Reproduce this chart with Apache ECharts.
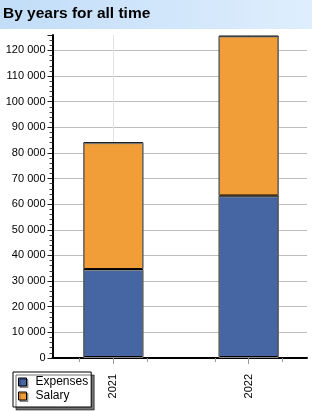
<!DOCTYPE html>
<html><head><meta charset="utf-8">
<script src="https://cdn.jsdelivr.net/npm/echarts@6/dist/echarts.min.js"></script>
<style>html,body{margin:0;padding:0;background:#fff}#c{width:312px;height:411px}</style>
</head><body><div id="c"></div>
<script>
var titleText = 'By years for all time';
var categories = ['2021', '2022'];
var seriesNames = ['Expenses', 'Salary'];
var expenses = [34300, 63000];
var salary = [49500, 62400];
var yMax = 126000;
var yInterval = 10000;
// slot layout: 7 evenly spaced x tick positions, years sit on slots 1 and 5
var slots = ['', categories[0], '', '', '', categories[1], ''];
var yearSlot = [1, 5];

function slotData(vals) {
  var d = slots.map(function () { return null; });
  yearSlot.forEach(function (s, i) { d[s] = vals[i]; });
  return d;
}
function fmt(v) {
  if (v % yInterval !== 0) return '';
  return String(v).replace(/\B(?=(\d{3})+(?!\d))/g, ' ');
}
function isYear(i) { return yearSlot.indexOf(i) >= 0; }
var FONT = '"Liberation Sans", Arial, sans-serif';
var chart = echarts.init(document.getElementById('c'), null, {renderer: 'canvas'});
chart.setOption({
  animation: false,
  textStyle: {fontFamily: FONT},
  graphic: [{
    type: 'rect', shape: {x: 0, y: 0, width: 312, height: 29}, z: -1,
    style: {fill: new echarts.graphic.LinearGradient(0, 0, 1, 0, [
      {offset: 0, color: '#c2ddf8'}, {offset: 1, color: '#deeefd'}])}
  }, {
    type: 'text', left: 3, top: 6,
    style: {text: titleText, font: 'bold 15.5px ' + FONT, fill: '#000'}
  }],
  grid: [
    {left: 52.5, right: 5, top: 35, bottom: 53, containLabel: false, outerBoundsMode: 'none'},
    {left: 79.5, right: 29.5, top: 35, bottom: 53, containLabel: false, outerBoundsMode: 'none'}
  ],
  xAxis: [
    {gridIndex: 0, type: 'value', min: 0, max: 1, position: 'bottom',
     axisLine: {show: true, onZero: false, lineStyle: {color: '#000', width: 2}},
     axisTick: {show: false}, axisLabel: {show: false}, splitLine: {show: false}},
    {gridIndex: 1, type: 'category', data: slots, boundaryGap: false, position: 'bottom',
     axisLine: {show: false, onZero: false},
     axisTick: {show: true, length: 4, lineStyle: {color: '#999'}},
     axisLabel: {show: false},
     splitLine: {show: true, interval: isYear, lineStyle: {color: '#e2e2e2', width: 1}}},
    {gridIndex: 1, type: 'category', data: slots, boundaryGap: false, position: 'bottom', offset: 0,
     axisLine: {show: false, onZero: false},
     axisTick: {show: true, length: 6, interval: isYear, lineStyle: {color: '#999'}},
     axisLabel: {show: true, rotate: 90, margin: 16, fontSize: 11, color: '#000', interval: isYear},
     splitLine: {show: false}}
  ],
  yAxis: [
    {gridIndex: 0, type: 'value', min: 0, max: yMax, interval: yInterval,
     axisLine: {show: true, lineStyle: {color: '#000', width: 2}},
     axisTick: {show: true, length: 5, lineStyle: {color: '#222'}},
     minorTick: {show: true, splitNumber: 5, length: 3, lineStyle: {color: '#444'}},
     axisLabel: {formatter: fmt, fontSize: 11, color: '#000', margin: 7},
     splitLine: {show: true, showMaxLine: false, lineStyle: {color: '#bdbdbd', width: 1}}},
    {gridIndex: 1, type: 'value', min: 0, max: yMax, show: false, splitLine: {show: false}}
  ],
  legend: {
    orient: 'vertical', left: 13, top: 372,
    data: seriesNames,
    icon: 'rect', itemWidth: 8, itemHeight: 8, itemGap: 0,
    padding: [3, 3, 4, 5],
    backgroundColor: '#fff', borderColor: '#000', borderWidth: 1,
    shadowColor: 'rgba(0,0,0,0.55)', shadowOffsetX: 3, shadowOffsetY: 3, shadowBlur: 0,
    textStyle: {fontSize: 12, lineHeight: 14, color: '#000', padding: [0, 0, 0, 4]},
    itemStyle: {borderColor: '#000', borderWidth: 1, shadowColor: 'rgba(0,0,0,0.35)',
      shadowOffsetX: 1.5, shadowOffsetY: 1.5, shadowBlur: 0}
  },
  series: [
    {name: seriesNames[0], type: 'bar', stack: 'total', xAxisIndex: 1, yAxisIndex: 1,
     barWidth: 60, z: 3, data: slotData(expenses),
     itemStyle: {color: '#4566a3', borderColor: '#888', borderWidth: 1,
       shadowColor: '#000', shadowOffsetY: -1, shadowOffsetX: 0, shadowBlur: 0}},
    {name: seriesNames[1], type: 'bar', stack: 'total', xAxisIndex: 1, yAxisIndex: 1,
     barWidth: 60, z: 2, data: slotData(salary),
     itemStyle: {color: '#f29e38', borderColor: '#888', borderWidth: 1,
       shadowColor: '#000', shadowOffsetY: -1, shadowOffsetX: 0, shadowBlur: 0}}
  ]
});
</script></body></html>
